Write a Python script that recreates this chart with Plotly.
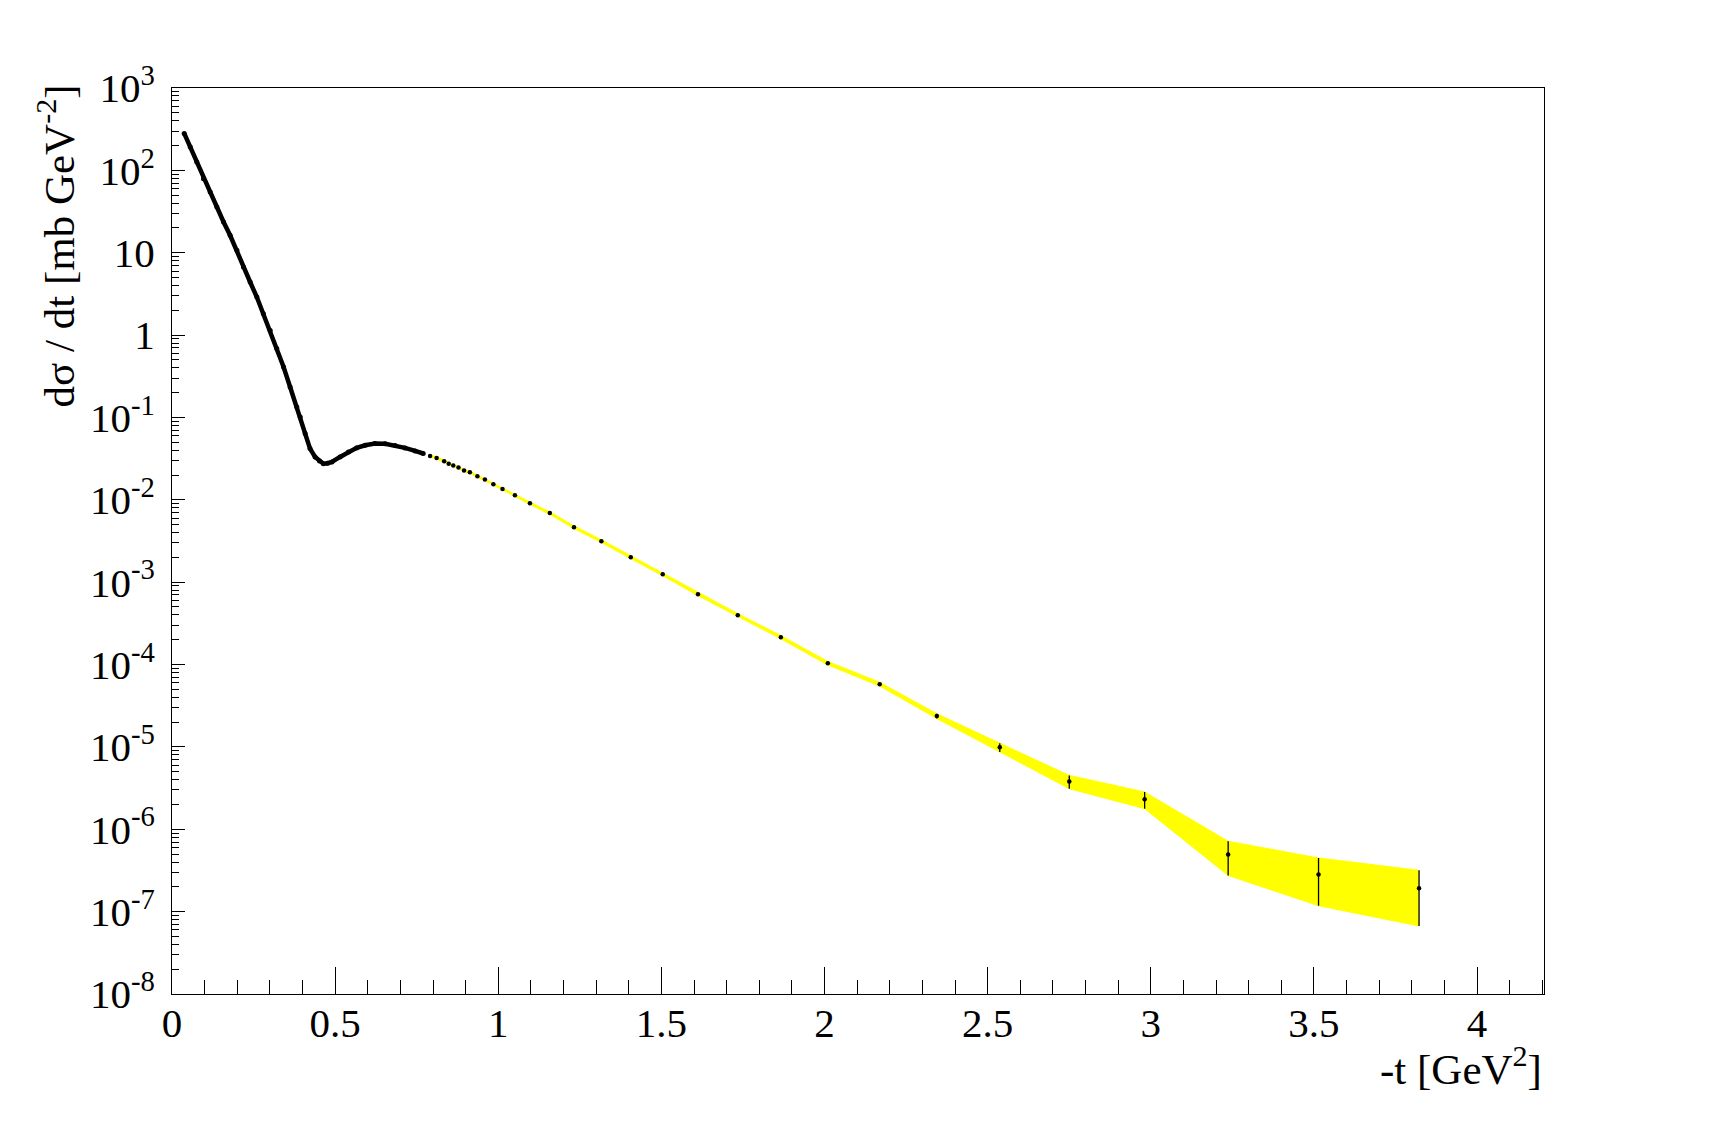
import plotly.graph_objects as go

# ---- data (|t| in GeV^2, dsigma/dt in mb/GeV^2) ----
t_dense = [0.0374, 0.056, 0.076, 0.0965, 0.117, 0.1375, 0.158, 0.178, 0.199, 0.219,
           0.2395, 0.26, 0.28, 0.301, 0.321, 0.342, 0.362, 0.3825, 0.393, 0.408,
           0.423, 0.4386, 0.452, 0.464, 0.477, 0.490, 0.515, 0.5406, 0.566, 0.592,
           0.622, 0.653, 0.6836, 0.714, 0.745, 0.770]
sig_dense = [281, 192, 126, 79, 54.6, 35.9, 23.6, 16.3, 10.7, 6.70,
             4.41, 2.90, 1.82, 1.14, 0.685, 0.41, 0.234, 0.134, 0.101, 0.0637,
             0.0419, 0.0332, 0.0295, 0.0275, 0.0278, 0.0288, 0.0332, 0.0381, 0.0427, 0.046,
             0.0482, 0.0478, 0.0456, 0.0427, 0.0392, 0.0365]

t_sparse = [0.791, 0.811, 0.834, 0.848, 0.862, 0.878, 0.895, 0.913, 0.936, 0.959,
            0.985, 1.013, 1.051, 1.097, 1.158, 1.232, 1.316, 1.406, 1.504, 1.612,
            1.734, 1.866, 2.010, 2.169, 2.344, 2.537, 2.750, 2.981, 3.237, 3.514, 3.822]
sig_sparse = [0.0341, 0.0323, 0.0294, 0.0275, 0.0261, 0.0247, 0.0227, 0.0216, 0.0193, 0.0176,
              0.0155, 0.0135, 0.0114, 0.0091, 0.0069, 4.65e-3, 3.15e-3, 2.01e-3, 1.25e-3, 7.16e-4,
              3.98e-4, 2.15e-4, 1.04e-4, 5.78e-5, 2.37e-5, 9.9e-6, 3.81e-6, 2.31e-6, 4.95e-7, 2.83e-7, 1.92e-7]
err_sparse = [0.001, 0.001, 0.0009, 0.0008, 0.0008, 0.0007, 0.0007, 0.0006, 0.0006, 0.0005,
              0.0005, 0.0004, 0.0004, 0.0003, 0.00025, 1.8e-4, 1.2e-4, 8e-5, 5e-5, 3e-5,
              1.7e-5, 1e-5, 5e-6, 3e-6, 1.6e-6, 1.2e-6, 0.7e-6, 0.53e-6, 2.2e-7, 1.65e-7, 1.25e-7]

y_tickvals = [1e3, 1e2, 1e1, 1, 1e-1, 1e-2, 1e-3, 1e-4, 1e-5, 1e-6, 1e-7, 1e-8]
y_ticktext = ["10<sup>3</sup>", "10<sup>2</sup>", "10", "1", "10<sup>-1</sup>", "10<sup>-2</sup>",
              "10<sup>-3</sup>", "10<sup>-4</sup>", "10<sup>-5</sup>", "10<sup>-6</sup>",
              "10<sup>-7</sup>", "10<sup>-8</sup>"]

FONT = "Liberation Serif, Times New Roman, serif"

upper = [s + e for s, e in zip(sig_sparse, err_sparse)]
lower = [s - e for s, e in zip(sig_sparse, err_sparse)]

fig = go.Figure()
fig.add_trace(go.Scatter(x=t_sparse, y=lower, mode="lines",
                         line=dict(color="#ffff00", width=1), showlegend=False, hoverinfo="skip"))
fig.add_trace(go.Scatter(x=t_sparse, y=upper, mode="lines", fill="tonexty",
                         fillcolor="#ffff00",
                         line=dict(color="#ffff00", width=1), showlegend=False, hoverinfo="skip"))
fig.add_trace(go.Scatter(x=t_dense, y=sig_dense, mode="lines+markers",
                         line=dict(color="black", width=4.5),
                         marker=dict(color="black", size=5, symbol="circle"),
                         showlegend=False))
fig.add_trace(go.Scatter(x=t_sparse, y=sig_sparse, mode="markers",
                         marker=dict(color="black", size=4.5, symbol="circle"),
                         error_y=dict(type="data", array=err_sparse, color="black",
                                      thickness=1.3, width=0),
                         showlegend=False))

minor_vals = []
for e in range(-8, 3):
    for k in range(2, 10):
        minor_vals.append(k * 10.0 ** e)

fig.update_layout(
    width=1700, height=1117,
    margin=dict(l=164, r=164, t=80, b=131),
    paper_bgcolor="white", plot_bgcolor="white",
    font=dict(family=FONT, size=41, color="black"),
    xaxis=dict(range=[0, 4.205], showgrid=False, zeroline=False,
               showline=True, linecolor="black", linewidth=1, mirror=True,
               ticks="inside", ticklen=27, tickwidth=1, tickcolor="black",
               tick0=0, dtick=0.5, ticklabelstandoff=-7,
               tickfont=dict(family=FONT, size=41, color="black"),
               minor=dict(ticks="inside", ticklen=14, tickwidth=1, tickcolor="black",
                          dtick=0.1, tick0=0, showgrid=False)),
    yaxis=dict(type="log", range=[-8, 3], showgrid=False, zeroline=False,
               showline=True, linecolor="black", linewidth=1, mirror=True,
               ticks="inside", ticklen=13, tickwidth=1, tickcolor="black",
               tickmode="array", tickvals=y_tickvals, ticktext=y_ticktext,
               ticklabelstandoff=8,
               tickfont=dict(family=FONT, size=41, color="black"),
               minor=dict(ticks="inside", ticklen=7, tickwidth=1, tickcolor="black",
                          tickmode="array", tickvals=minor_vals, showgrid=False)),
    annotations=[
        dict(text="-t [GeV<sup>2</sup>]", xref="paper", yref="paper", x=1.0, y=-0.080,
             xanchor="right", yanchor="middle", showarrow=False,
             font=dict(family=FONT, size=43, color="black")),
        dict(text="dσ / dt [mb GeV<sup>-2</sup>]", xref="paper", yref="paper",
             x=-0.0843, y=1.006, xanchor="center", yanchor="top", textangle=-90,
             showarrow=False, font=dict(family=FONT, size=43, color="black")),
    ],
)

fig.write_html("out.html")
